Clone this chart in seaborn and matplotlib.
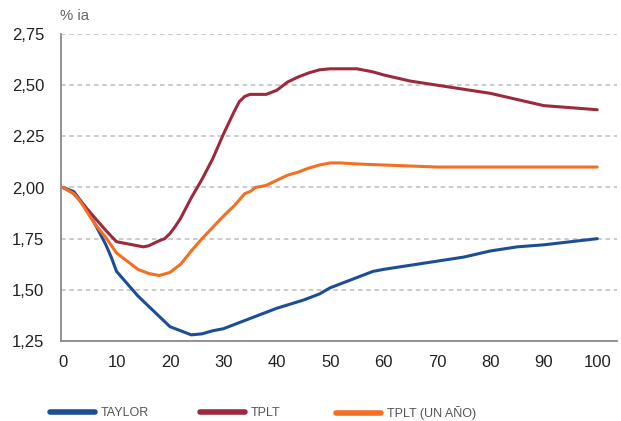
import numpy as np
import pandas as pd
import matplotlib
matplotlib.use("Agg")
import matplotlib.pyplot as plt
from matplotlib.lines import Line2D
import seaborn as sns

# datos
t_taylor = [0, 2, 4, 6, 8, 9, 10, 11, 12, 14, 16, 18, 20, 22, 24, 26, 28, 30, 32, 35,
            40, 45, 48, 50, 52, 55, 58, 60, 65, 70, 75, 80, 85, 90, 95, 100]
v_taylor = [2.00, 1.98, 1.91, 1.82, 1.72, 1.66, 1.59, 1.56, 1.53, 1.47, 1.42, 1.37, 1.32,
            1.30, 1.28, 1.285, 1.30, 1.31, 1.33, 1.36, 1.41, 1.45, 1.48, 1.51, 1.53, 1.56,
            1.59, 1.60, 1.62, 1.64, 1.66, 1.69, 1.71, 1.72, 1.735, 1.75]

t_tplt = [0, 2, 4, 6, 8, 10, 12, 14, 15, 16, 18, 19, 20, 21, 22, 24, 26, 28, 30, 32, 33,
          34, 35, 36, 38, 40, 42, 44, 46, 48, 50, 55, 58, 60, 65, 70, 75, 80, 85, 90, 95, 100]
v_tplt = [2.00, 1.97, 1.91, 1.85, 1.79, 1.735, 1.725, 1.715, 1.71, 1.715, 1.74, 1.75, 1.775,
          1.81, 1.85, 1.95, 2.04, 2.14, 2.26, 2.37, 2.42, 2.445, 2.455, 2.455, 2.455, 2.475,
          2.515, 2.54, 2.56, 2.575, 2.58, 2.58, 2.565, 2.55, 2.52, 2.50, 2.48, 2.46, 2.43,
          2.40, 2.39, 2.38]

t_anio = [0, 2, 3, 4, 6, 8, 10, 12, 14, 16, 18, 20, 22, 24, 26, 28, 30, 32, 34, 35, 36, 38,
          40, 42, 44, 46, 48, 50, 52, 55, 60, 65, 70, 80, 90, 100]
v_anio = [2.00, 1.97, 1.94, 1.90, 1.82, 1.755, 1.68, 1.64, 1.60, 1.58, 1.57, 1.585, 1.625,
          1.69, 1.75, 1.805, 1.86, 1.91, 1.97, 1.98, 2.00, 2.01, 2.035, 2.06, 2.075, 2.095,
          2.11, 2.12, 2.12, 2.115, 2.11, 2.105, 2.10, 2.10, 2.10, 2.10]

series = ["TAYLOR", "TPLT", "TPLT (UN AÑO)"]
colores = ["#1c4e94", "#9c2a3f", "#f36f22"]

df = pd.concat([
    pd.DataFrame({"t": t_taylor, "v": v_taylor, "serie": series[0]}),
    pd.DataFrame({"t": t_tplt, "v": v_tplt, "serie": series[1]}),
    pd.DataFrame({"t": t_anio, "v": v_anio, "serie": series[2]}),
])

sns.set_style("white")
plt.rcParams["font.family"] = ["Liberation Sans", "DejaVu Sans"]

fig = plt.figure(figsize=(6.21, 4.21), dpi=100)
ax = fig.add_axes([61 / 621, 1 - 341 / 421, 556 / 621, 307 / 421])

sns.lineplot(data=df, x="t", y="v", hue="serie", palette=colores, estimator=None,
             linewidth=2.2, ax=ax, legend=False)

ax.set_xlim(-0.4, 103.7)
ax.set_ylim(1.25, 2.75)
ax.set_xticks(np.arange(0, 101, 10))
ax.set_yticks([1.25, 1.50, 1.75, 2.00, 2.25, 2.50, 2.75])
ax.set_yticklabels([f"{y:.2f}".replace(".", ",") for y in ax.get_yticks()])
ax.yaxis.grid(True, color="#bdbdbd", linestyle=(0, (3, 2.4)), linewidth=1.1)
ax.set_axisbelow(True)
ax.set_xlabel("")
ax.set_ylabel("")

for s in ["top", "right"]:
    ax.spines[s].set_visible(False)
for s in ["left", "bottom"]:
    ax.spines[s].set_color("#8a8a8a")
    ax.spines[s].set_linewidth(1.3)

ax.tick_params(axis="x", direction="in", length=4, width=1, color="#a0a0a0",
               labelsize=12, labelcolor="#222222", pad=10)
ax.tick_params(axis="y", length=0, labelsize=12, labelcolor="#222222", pad=12)

fig.text(60 / 621, 1 - 16 / 421, "% ia", fontsize=10.7, color="#666666",
         ha="left", va="center")

# leyenda: una entrada por posición
pos_x = [50, 200, 336]
for nombre, col, px in zip(series, colores, pos_x):
    leg = fig.legend([Line2D([], [], color=col, linewidth=4)], [nombre],
                     loc="center left", bbox_to_anchor=(px / 621, 1 - 413 / 421),
                     frameon=False, borderpad=0, borderaxespad=0, handlelength=3.6,
                     handletextpad=0.45, fontsize=9, labelcolor="#555555")

fig.savefig("out.png", dpi=100)
